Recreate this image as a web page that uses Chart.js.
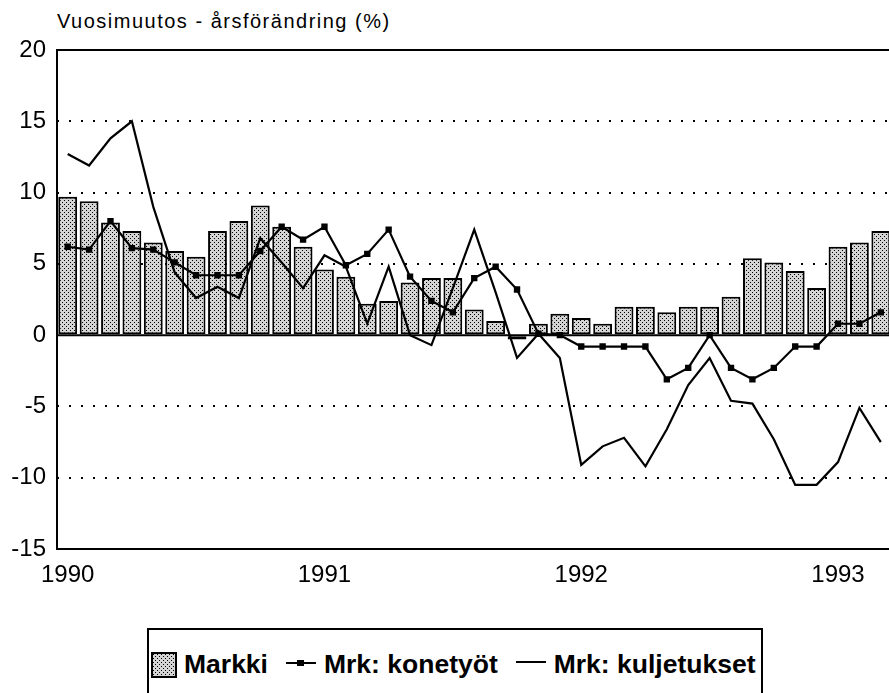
<!DOCTYPE html>
<html>
<head>
<meta charset="utf-8">
<script src="https://cdn.jsdelivr.net/npm/chart.js@4.4.0/dist/chart.umd.min.js"></script>
<style>
  html, body { margin: 0; padding: 0; background: #fff; overflow: hidden; }
  #wrap { position: relative; width: 889px; height: 693px; overflow: hidden; }
  #title { position: absolute; left: 57px; top: 10px; font: 20px "Liberation Sans", Arial, sans-serif; letter-spacing: 1.5px; color: #000; }
  #chart { position: absolute; left: 0; top: 0; }
  #legend { position: absolute; left: 147px; top: 628px; width: 616px; height: 80px; border: 2px solid #000; box-sizing: border-box;
            display: flex; align-items: flex-start; padding-top: 19px; padding-left: 2px;
            font: bold 26.5px "Liberation Sans", Arial, sans-serif; color: #000; white-space: nowrap; }
  #legend .item { display: flex; align-items: center; margin-right: 17px; }
  #legend svg { margin-right: 7px; }
</style>
</head>
<body>
<div id="wrap">
  <div id="title">Vuosimuutos - årsförändring (%)</div>
  <canvas id="chart" width="896" height="600"></canvas>
  <div id="legend"></div>
</div>
<script>
// kuukaudet 1/1990 - 3/1993
const years = ['1990', '1991', '1992', '1993'];
const months = [];
for (let y = 0; y < years.length; y++) {
  for (let m = 1; m <= 12; m++) {
    if (y === 3 && m > 3) break;
    months.push(years[y] + '-' + String(m).padStart(2, '0'));
  }
}

const seriesNames = ['Markki', 'Mrk: konetyöt', 'Mrk: kuljetukset'];

const markki = [9.7, 9.4, 7.9, 7.3, 6.5, 5.9, 5.5, 7.3, 8.0, 9.1, 7.6, 6.2,
                4.6, 4.1, 2.2, 2.4, 3.7, 4.0, 4.0, 1.8, 1.0, -0.3, 0.8, 1.5,
                1.2, 0.8, 2.0, 2.0, 1.6, 2.0, 2.0, 2.7, 5.4, 5.1, 4.5, 3.3,
                6.2, 6.5, 7.3];

const konetyot = [6.2, 6.0, 8.0, 6.1, 6.0, 5.1, 4.2, 4.2, 4.2, 5.9, 7.6, 6.7,
                  7.6, 4.9, 5.7, 7.4, 4.1, 2.4, 1.6, 4.0, 4.8, 3.2, 0.1, 0.0,
                  -0.8, -0.8, -0.8, -0.8, -3.1, -2.3, 0.0, -2.3, -3.1, -2.3, -0.8, -0.8,
                  0.8, 0.8, 1.6];

const kuljetukset = [12.7, 11.9, 13.8, 15.0, 9.0, 4.4, 2.6, 3.4, 2.6, 6.8, 5.1, 3.3,
                     5.6, 4.8, 0.8, 4.8, 0.0, -0.7, 3.3, 7.4, 3.0, -1.6, 0.1, -1.6,
                     -9.1, -7.8, -7.2, -9.2, -6.6, -3.5, -1.6, -4.6, -4.8, -7.3, -10.5, -10.5,
                     -8.9, -5.1, -7.5];

const yTicks = [20, 15, 10, 5, 0, -5, -10, -15];

// pisterasteri pylväisiin
const pc = document.createElement('canvas');
pc.width = 4; pc.height = 4;
const pctx = pc.getContext('2d');
pctx.fillStyle = '#d4d4d4';
pctx.fillRect(0, 0, 4, 4);
pctx.fillStyle = '#000';
pctx.fillRect(0, 0, 1, 1);
pctx.fillRect(2, 2, 1, 1);
const dots = pctx.createPattern(pc, 'repeat');

const frame = {
  id: 'frame',
  beforeDatasetsDraw(chart) {
    const { ctx, chartArea: a, scales: { y } } = chart;
    const y0 = y.getPixelForValue(0);
    ctx.save();
    ctx.strokeStyle = '#000';
    ctx.lineWidth = 2;
    ctx.beginPath();
    ctx.moveTo(a.left, y0); ctx.lineTo(a.right, y0);
    ctx.stroke();
    ctx.restore();
  },
  afterDraw(chart) {
    const { ctx, chartArea: a } = chart;
    ctx.save();
    ctx.strokeStyle = '#000';
    ctx.lineWidth = 2;
    ctx.beginPath();
    ctx.moveTo(a.right + 2, a.top); ctx.lineTo(a.left, a.top);
    ctx.lineTo(a.left, a.bottom); ctx.lineTo(a.right + 2, a.bottom);
    ctx.stroke();
    ctx.restore();
  }
};

const ctx = document.getElementById('chart');
const chart = new Chart(ctx, {
  type: 'bar',
  data: {
    labels: months,
    datasets: [
      {
        type: 'line',
        label: seriesNames[2],
        data: kuljetukset,
        borderColor: '#000',
        borderWidth: 2.2,
        pointRadius: 0,
        tension: 0,
        order: 1,
      },
      {
        type: 'line',
        label: seriesNames[1],
        data: konetyot,
        borderColor: '#000',
        borderWidth: 2.2,
        pointStyle: 'rect',
        pointRadius: 4.5,
        pointBackgroundColor: '#000',
        pointBorderWidth: 0,
        tension: 0,
        order: 2,
      },
      {
        label: seriesNames[0],
        data: markki,
        backgroundColor: dots,
        borderColor: '#000',
        borderWidth: 2,
        borderSkipped: false,
        categoryPercentage: 1,
        barPercentage: 0.88,
        order: 3,
      },
    ],
  },
  options: {
    responsive: false,
    animation: false,
    layout: { padding: { top: 50, left: 0, right: 0, bottom: 0 } },
    plugins: { legend: { display: false }, tooltip: { enabled: false } },
    scales: {
      x: {
        offset: true,
        grid: { display: false, drawTicks: false },
        border: { display: false },
        afterFit(scale) { scale.height = 51; },
        ticks: {
          autoSkip: false,
          maxRotation: 0,
          padding: 12,
          color: '#000',
          font: { family: '"Liberation Sans", Arial, sans-serif', size: 24 },
          callback: function (value, index) {
            return index % 12 === 0 ? years[index / 12] : '';
          },
        },
      },
      y: {
        min: -15,
        max: 20,
        afterFit(scale) { scale.width = 57; },
        afterBuildTicks(scale) { scale.ticks = yTicks.map(v => ({ value: v })); },
        grid: {
          drawTicks: false,
          lineWidth: 2,
          color: (c) => (c.tick && (c.tick.value === 20 || c.tick.value === -15 || c.tick.value === 0)) ? 'rgba(0,0,0,0)' : '#000',
        },
        border: { display: false, dash: [2, 10] },
        ticks: {
          padding: 11,
          color: '#000',
          font: { family: '"Liberation Sans", Arial, sans-serif', size: 24 },
        },
      },
    },
  },
  plugins: [frame],
});

// selite
const legend = document.getElementById('legend');
const icons = [
  '<svg width="26" height="26"><defs><pattern id="pd" width="4" height="4" patternUnits="userSpaceOnUse">' +
    '<rect width="4" height="4" fill="#d4d4d4"/><rect width="1" height="1" fill="#000"/><rect x="2" y="2" width="1" height="1" fill="#000"/>' +
    '</pattern></defs><rect x="1" y="1" width="24" height="24" fill="url(#pd)" stroke="#000" stroke-width="2"/></svg>',
  '<svg width="32" height="26"><line x1="1" y1="11" x2="31" y2="11" stroke="#000" stroke-width="2"/><rect x="12" y="8" width="7" height="6" fill="#000"/></svg>',
  '<svg width="32" height="26"><line x1="1" y1="10" x2="31" y2="10" stroke="#000" stroke-width="2"/></svg>',
];
seriesNames.forEach((name, i) => {
  const s = document.createElement('span');
  s.className = 'item';
  s.innerHTML = icons[i] + '<span>' + name + '</span>';
  legend.appendChild(s);
});
</script>
</body>
</html>
